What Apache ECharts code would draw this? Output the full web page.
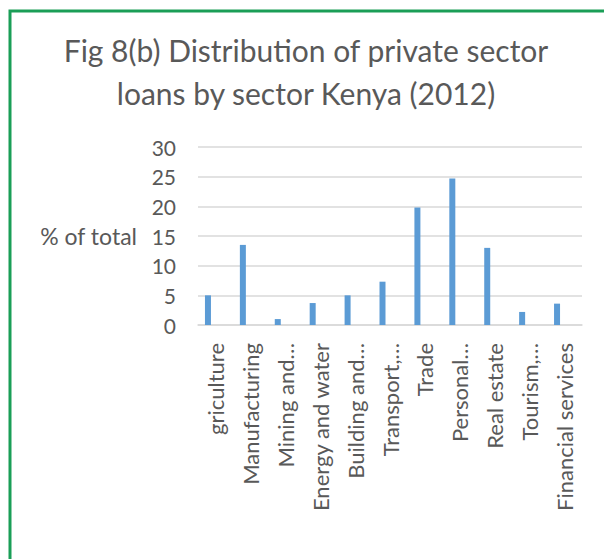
<!DOCTYPE html>
<html>
<head>
<meta charset="utf-8">
<script src="https://cdn.jsdelivr.net/npm/echarts@6/dist/echarts.min.js"></script>
<style>
  html, body { margin: 0; padding: 0; background: #ffffff; }
  #chart { width: 604px; height: 559px; }
</style>
</head>
<body>
<div id="chart"></div>
<script>
const titleLines = ['Fig 8(b) Distribution of private sector', 'loans by sector Kenya (2012)'];
const categories = ['griculture', 'Manufacturing', 'Mining and…', 'Energy and water', 'Building and…', 'Transport,…', 'Trade', 'Personal…', 'Real estate', 'Tourism,…', 'Financial services'];
const shareValues = [5.0, 13.5, 1.0, 3.7, 5.0, 7.3, 19.8, 24.7, 13.0, 2.2, 3.6];
const spacerValues = [null, null, null, null, null, null, null, null, null, null, null];
const yAxisName = '% of total';
const yMin = 0, yMax = 30, yStep = 5;

const textColor = '#595959';
const fontFamily = 'Lato, "Open Sans", sans-serif';

const chart = echarts.init(document.getElementById('chart'), null, { renderer: 'svg' });
chart.setOption({
  backgroundColor: '#ffffff',
  animation: false,
  graphic: [{
    type: 'rect',
    shape: { x: 10, y: 11, width: 700, height: 700 },
    style: { fill: 'none', stroke: '#1a9e57', lineWidth: 3 },
    silent: true
  }],
  title: {
    text: titleLines.join('\n'),
    left: 301,
    textAlign: 'center',
    top: 23,
    textStyle: {
      fontFamily: fontFamily,
      fontSize: 30,
      fontWeight: 'normal',
      color: textColor,
      lineHeight: 43
    }
  },
  grid: { left: 198, right: 22, top: 147, bottom: 234, containLabel: false },
  xAxis: {
    type: 'category',
    data: categories,
    axisTick: { show: false },
    axisLine: { lineStyle: { color: '#d9d9d9', width: 1.5 } },
    axisLabel: {
      interval: 0,
      rotate: 90,
      margin: 18,
      fontFamily: fontFamily,
      fontSize: 22,
      color: textColor
    }
  },
  yAxis: {
    type: 'value',
    min: yMin,
    max: yMax,
    interval: yStep,
    name: yAxisName,
    nameLocation: 'middle',
    nameRotate: 0,
    nameGap: 61,
    nameTextStyle: {
      fontFamily: fontFamily,
      fontSize: 23,
      color: textColor,
      align: 'right',
      verticalAlign: 'middle',
      padding: [8, 0, 0, 0]
    },
    axisLine: { show: false },
    axisTick: { show: false },
    axisLabel: {
      margin: 22,
      fontFamily: fontFamily,
      fontSize: 21,
      color: textColor
    },
    splitLine: { lineStyle: { color: '#d9d9d9', width: 1.5 } }
  },
  series: [
    {
      type: 'bar',
      name: 'Share',
      data: shareValues,
      barWidth: 6,
      barGap: '150%',
      itemStyle: { color: '#5b9bd5' }
    },
    {
      type: 'bar',
      name: 'spacer',
      data: spacerValues,
      barWidth: 6,
      itemStyle: { color: '#5b9bd5' }
    }
  ]
});
</script>
</body>
</html>
